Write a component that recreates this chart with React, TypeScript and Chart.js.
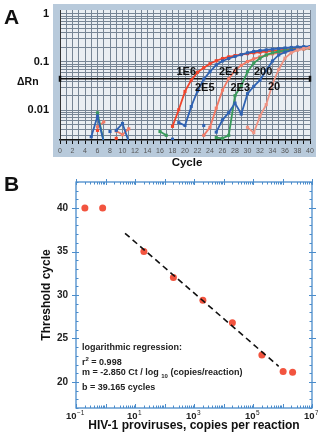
import React, { useEffect, useRef } from 'react';
import { Chart, registerables } from 'chart.js';

Chart.register(...registerables);

const FONT = '"Liberation Sans", Arial, sans-serif';

// ---------- Panel A: amplification plot (cycle vs ΔRn) ----------
const cyc1E6 = [18, 19, 20, 21, 22, 23, 24, 25, 26, 27, 28, 29, 30, 31, 32, 33, 34, 35, 36, 37, 38, 39, 40];
const val1E6 = [0.0046, 0.0102, 0.0245, 0.042, 0.061, 0.076, 0.092, 0.106, 0.118, 0.128, 0.136, 0.143, 0.149, 0.155, 0.16, 0.165, 0.17, 0.175, 0.18, 0.185, 0.19, 0.195, 0.2];

const cyc2E5 = [19, 20, 21, 22, 23, 24, 25, 26, 27, 28, 29, 30, 31, 32, 33, 34, 35, 36, 37, 38, 39, 40];
const val2E5 = [0.0055, 0.0048, 0.0119, 0.025, 0.044, 0.063, 0.087, 0.105, 0.118, 0.13, 0.142, 0.155, 0.165, 0.172, 0.178, 0.184, 0.19, 0.195, 0.2, 0.205, 0.208, 0.21];

const cyc2E4 = [23, 24, 25, 26, 27, 28, 29, 30, 31, 32, 33, 34, 35, 36, 37, 38, 39, 40];
const val2E4 = [0.003, 0.0044, 0.011, 0.026, 0.045, 0.067, 0.085, 0.102, 0.116, 0.128, 0.138, 0.147, 0.155, 0.163, 0.17, 0.178, 0.185, 0.192];

const cyc2E3 = [25, 26, 27, 28, 29, 30, 31, 32, 33, 34, 35, 36, 37, 38, 39, 40];
const val2E3 = [0.0027, 0.0026, 0.003, 0.02, 0.032, 0.063, 0.095, 0.12, 0.14, 0.155, 0.165, 0.172, 0.178, 0.184, 0.19, 0.195];

const cyc200 = [25, 26, 27, 28, 29, 30, 31, 32, 33, 34, 35, 36, 37, 38, 39, 40];
const val200 = [0.0035, 0.0063, 0.0089, 0.014, 0.0083, 0.022, 0.031, 0.042, 0.067, 0.105, 0.14, 0.16, 0.175, 0.185, 0.195, 0.2];

const cyc20 = [30, 31, 32, 33, 34, 35, 36, 37, 38, 39, 40];
const val20 = [0.0044, 0.0034, 0.0075, 0.013, 0.035, 0.07, 0.12, 0.155, 0.178, 0.19, 0.2];

// background noise fragments
const noiseBlue1C = [5, 6, 7];
const noiseBlue1V = [0.0028, 0.0075, 0.0022];
const noiseBlue2C = [8];
const noiseBlue2V = [0.0036];
const noiseBlue3C = [9, 10, 11];
const noiseBlue3V = [0.0038, 0.0053, 0.0022];
const noiseBlue4C = [18];
const noiseBlue4V = [0.0025];
const noiseBlue5C = [23];
const noiseBlue5V = [0.0048];
const noiseGreen1C = [6, 7];
const noiseGreen1V = [0.0088, 0.0022];
const noiseGreen2C = [16, 17];
const noiseGreen2V = [0.0036, 0.003];
const noiseRed1C = [6];
const noiseRed1V = [0.0038];
const noiseRed2C = [9];
const noiseRed2V = [0.0026];
const noiseSalmon1C = [6, 7];
const noiseSalmon1V = [0.0045, 0.0057];
const noiseSalmon2C = [9, 10, 11];
const noiseSalmon2V = [0.0037, 0.0031, 0.0041];

const thresholdValue = 0.0448;
const cycleMin = 0;
const cycleMax = 40;
const yLabeledA = [1, 0.1, 0.01];

// ---------- Panel B: standard curve ----------
const copies = [0.2, 0.8, 20, 200, 2000, 20000, 200000, 1050000, 2200000];
const thresholdCycles = [40, 40, 35, 32, 29.4, 26.8, 23.1, 21.2, 21.1];
const fitCopies = [4.6, 740000];
const fitCycles = [37.1, 21.8];
const yTicksB = [20, 25, 30, 35, 40];
const xLabelExpB = [-1, 1, 3, 5, 7];

const RED = '#f0442c';
const BLUE = '#2f62b2';
const SALMON = '#f27a66';
const GREEN = '#3a9a5c';
const PINK = '#ee9383';

const pts = (c: number[], v: number[]) => c.map((x, i) => ({ x, y: v[i] }));

function series(color: string, c: number[], v: number[]) {
  return {
    data: pts(c, v),
    showLine: true,
    borderColor: color,
    backgroundColor: color,
    borderWidth: 1.8,
    pointStyle: 'rect',
    pointRadius: 2.2,
    pointBorderWidth: 0,
    pointBackgroundColor: color,
  };
}

const noPad = (s: any) => {
  s.paddingTop = 0;
  s.paddingBottom = 0;
  s.paddingLeft = 0;
  s.paddingRight = 0;
};

export default function App() {
  const refA = useRef<HTMLCanvasElement>(null);
  const refB = useRef<HTMLCanvasElement>(null);

  useEffect(() => {
    const frameA = {
      id: 'frameA',
      beforeDraw(chart: any) {
        const { ctx, chartArea: a } = chart;
        ctx.save();
        ctx.fillStyle = '#b8cadb';
        ctx.fillRect(53, 4, 263, 153);
        ctx.fillStyle = '#eaeef2';
        ctx.fillRect(a.left, a.top, a.right - a.left, a.bottom - a.top);
        ctx.restore();
      },
    };

    const yTickValsA: number[] = [];
    for (let e = -3; e <= 0; e++) {
      for (let m = 1; m <= 9; m++) {
        const v = m * Math.pow(10, e);
        if (v >= 0.0024 && v <= 1.2) yTickValsA.push(v);
      }
    }

    const chartA = new Chart(refA.current!, {
      type: 'scatter',
      data: {
        datasets: [
          series(PINK, cyc20, val20),
          series(BLUE, cyc200, val200),
          series(GREEN, cyc2E3, val2E3),
          series(SALMON, cyc2E4, val2E4),
          series(BLUE, cyc2E5, val2E5),
          series(RED, cyc1E6, val1E6),
          series(BLUE, noiseBlue1C, noiseBlue1V),
          series(BLUE, noiseBlue2C, noiseBlue2V),
          series(BLUE, noiseBlue3C, noiseBlue3V),
          series(BLUE, noiseBlue4C, noiseBlue4V),
          series(BLUE, noiseBlue5C, noiseBlue5V),
          series(GREEN, noiseGreen1C, noiseGreen1V),
          series(GREEN, noiseGreen2C, noiseGreen2V),
          series(SALMON, noiseSalmon1C, noiseSalmon1V),
          series(SALMON, noiseSalmon2C, noiseSalmon2V),
          series(RED, noiseRed1C, noiseRed1V),
          series(RED, noiseRed2C, noiseRed2V),
          {
            data: [
              { x: cycleMin, y: thresholdValue },
              { x: cycleMax, y: thresholdValue },
            ],
            showLine: true,
            borderColor: '#111',
            borderWidth: 1.5,
            pointStyle: 'line',
            rotation: 90,
            pointRadius: 3,
            pointBorderWidth: 2.5,
            pointBorderColor: '#111',
            clip: false,
          } as any,
        ] as any,
      },
      options: {
        animation: false,
        responsive: false,
        events: [],
        layout: { padding: { top: 10, right: 8, left: 0, bottom: 0 } },
        plugins: { legend: { display: false }, tooltip: { enabled: false } },
        scales: {
          x: {
            type: 'linear',
            min: cycleMin,
            max: cycleMax,
            afterFit: (s: any) => {
              s.height = 30;
              noPad(s);
            },
            ticks: {
              stepSize: 1,
              autoSkip: false,
              maxRotation: 0,
              padding: 3,
              color: '#555',
              font: { family: FONT, size: 7 },
              callback: (v: any) => (Number(v) % 2 === 0 ? String(v) : ''),
            },
            grid: { color: '#778594', lineWidth: 1, drawTicks: true, tickLength: 4, tickColor: '#111', tickWidth: 1 },
            border: { color: '#111', width: 1.5 },
          },
          y: {
            type: 'logarithmic',
            min: 0.0024,
            max: 1.2,
            afterFit: (s: any) => {
              s.width = 60;
              noPad(s);
            },
            afterBuildTicks: (s: any) => {
              s.ticks = yTickValsA.map((v) => ({ value: v }));
            },
            ticks: {
              autoSkip: false,
              padding: 11,
              color: '#111',
              font: { family: FONT, size: 11, weight: 'bold' },
              callback: (v: any) => {
                const n = Number(v);
                const hit = yLabeledA.find((t) => Math.abs(t - n) / t < 1e-6);
                return hit !== undefined ? String(hit) : '';
              },
            },
            grid: { color: '#778594', lineWidth: 1, drawTicks: false },
            border: { color: '#333', width: 1 },
          },
        },
      } as any,
      plugins: [frameA],
    });

    const axesB = {
      id: 'axesB',
      afterDraw(chart: any) {
        const { ctx, chartArea: a, scales } = chart;
        const x = scales.x;
        const y = scales.y;
        ctx.save();
        ctx.strokeStyle = '#4a8ccb';
        ctx.lineWidth = 1.3;
        ctx.strokeRect(a.left, a.top, a.right - a.left, a.bottom - a.top);
        ctx.lineWidth = 1;
        ctx.beginPath();
        for (let v = 17; v <= 43; v++) {
          const py = Math.round(y.getPixelForValue(v)) + 0.5;
          const major = v % 5 === 0;
          if (major) {
            ctx.moveTo(a.left - 4, py); ctx.lineTo(a.left + 3, py);
            ctx.moveTo(a.right - 3, py); ctx.lineTo(a.right + 4, py);
          } else {
            ctx.moveTo(a.left, py); ctx.lineTo(a.left + 2.5, py);
            ctx.moveTo(a.right - 2.5, py); ctx.lineTo(a.right, py);
          }
        }
        for (let e = -1; e <= 7; e++) {
          for (let m = 1; m <= 9; m++) {
            const v = m * Math.pow(10, e);
            if (v > 1e7 * 1.0001) break;
            const px = Math.round(x.getPixelForValue(v)) + 0.5;
            if (m === 1) {
              ctx.moveTo(px, a.top - 3); ctx.lineTo(px, a.top + 3);
              ctx.moveTo(px, a.bottom - 4); ctx.lineTo(px, a.bottom);
            } else {
              ctx.moveTo(px, a.top); ctx.lineTo(px, a.top + 2.5);
              ctx.moveTo(px, a.bottom - 2.5); ctx.lineTo(px, a.bottom);
            }
          }
        }
        ctx.stroke();
        // x tick labels 10^n
        ctx.fillStyle = '#222';
        ctx.textBaseline = 'alphabetic';
        for (const e of xLabelExpB) {
          const px = x.getPixelForValue(Math.pow(10, e));
          ctx.font = `bold 9.5px ${FONT}`;
          const wb = ctx.measureText('10').width;
          ctx.font = `6.5px ${FONT}`;
          const es = String(e).replace('-', '\u2212');
          const we = ctx.measureText(es).width;
          const x0 = px - (wb + we) / 2 - 1;
          const base = a.bottom + 11;
          ctx.font = `bold 9.5px ${FONT}`;
          ctx.fillText('10', x0, base);
          ctx.font = `6.5px ${FONT}`;
          ctx.fillText(es, x0 + wb + 0.5, base - 4.5);
        }
        ctx.restore();
      },
    };

    const chartB = new Chart(refB.current!, {
      type: 'scatter',
      data: {
        datasets: [
          {
            data: pts(fitCopies, fitCycles),
            showLine: true,
            borderColor: '#111',
            borderWidth: 1.6,
            borderDash: [6, 4],
            pointRadius: 0,
          },
          {
            data: pts(copies, thresholdCycles),
            pointRadius: 3.5,
            pointBorderWidth: 0,
            pointBackgroundColor: '#f2543f',
            backgroundColor: '#f2543f',
            clip: false,
          } as any,
        ] as any,
      },
      options: {
        animation: false,
        responsive: false,
        events: [],
        layout: { padding: { top: 12, right: 6, left: 0, bottom: 0 } },
        plugins: { legend: { display: false }, tooltip: { enabled: false } },
        scales: {
          x: {
            type: 'logarithmic',
            min: 0.1,
            max: 1e7,
            afterFit: (s: any) => {
              s.height = 26;
              noPad(s);
            },
            ticks: { display: false },
            grid: { display: false, drawTicks: false },
            border: { display: false },
          },
          y: {
            type: 'linear',
            min: 17,
            max: 43,
            afterFit: (s: any) => {
              s.width = 76;
              noPad(s);
            },
            afterBuildTicks: (s: any) => {
              s.ticks = yTicksB.map((v) => ({ value: v }));
            },
            ticks: {
              padding: 8,
              color: '#222',
              font: { family: FONT, size: 10, weight: 'bold' },
            },
            grid: { display: false, drawTicks: false },
            border: { display: false },
          },
        },
      } as any,
      plugins: [axesB],
    });

    return () => {
      chartA.destroy();
      chartB.destroy();
    };
  }, []);

  const abs = (left: number, top: number, size: number, extra: React.CSSProperties = {}): React.CSSProperties => ({
    position: 'absolute',
    left,
    top,
    fontFamily: FONT,
    fontSize: size,
    lineHeight: `${size}px`,
    fontWeight: 'bold',
    color: '#111',
    whiteSpace: 'nowrap',
    ...extra,
  });

  const noteSize = 9;

  return (
    <div style={{ position: 'absolute', left: 0, top: 0, width: 318, height: 434, background: '#fff', overflow: 'hidden' }}>
      <canvas ref={refA} width={318} height={170} style={{ position: 'absolute', left: 0, top: 0, width: 318, height: 170 }} />
      <canvas ref={refB} width={318} height={264} style={{ position: 'absolute', left: 0, top: 170, width: 318, height: 264 }} />

      <div style={abs(4, 6, 21)}>A</div>
      <div style={abs(17, 75.5, 10.5)}>ΔRn</div>
      <div style={abs(147, 156.5, 11.5, { width: 80, textAlign: 'center' })}>Cycle</div>

      <div style={abs(176.5, 65.5, 11)}>1E6</div>
      <div style={abs(195, 82, 11)}>2E5</div>
      <div style={abs(219, 65.5, 11)}>2E4</div>
      <div style={abs(230.5, 81.5, 11)}>2E3</div>
      <div style={abs(254, 65.5, 11)}>200</div>
      <div style={abs(268, 80.5, 11)}>20</div>

      <div style={abs(4, 172.5, 21)}>B</div>
      <div
        style={abs(-14, 289, 12, {
          width: 120,
          textAlign: 'center',
          transform: 'rotate(-90deg)',
          transformOrigin: '60px 6px',
        })}
      >
        Threshold cycle
      </div>
      <div style={abs(44, 419, 12, { width: 300, textAlign: 'center' })}>HIV-1 proviruses, copies per reaction</div>

      <div style={abs(82, 343, noteSize, { color: '#222' })}>logarithmic regression:</div>
      <div style={abs(82, 358, noteSize, { color: '#222' })}>
        r<sup style={{ fontSize: 6, lineHeight: 0, verticalAlign: 'super' }}>2</sup> = 0.998
      </div>
      <div style={abs(82, 367.5, noteSize, { color: '#222' })}>
        m = -2.850 Ct / log <sub style={{ fontSize: 6, lineHeight: 0, verticalAlign: 'sub' }}>10</sub> (copies/reaction)
      </div>
      <div style={abs(82, 383, noteSize, { color: '#222' })}>b = 39.165 cycles</div>
    </div>
  );
}
